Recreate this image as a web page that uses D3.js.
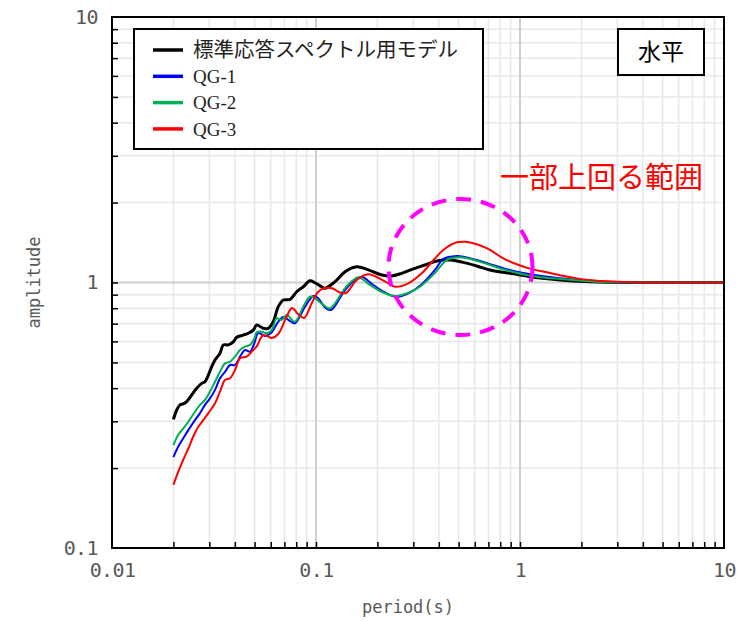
<!DOCTYPE html>
<html><head><meta charset="utf-8">
<script src="https://cdn.jsdelivr.net/npm/d3@7"></script>
<style>body{margin:0;background:#fff}</style>
</head><body>
<svg id="c" width="746" height="621"></svg>
<script>
// ---- data ----
const seriesNames = ["標準応答スペクトル用モデル", "QG-1", "QG-2", "QG-3"];
const seriesColors = ["#000000", "#0000ff", "#00b050", "#ff0000"];

const stdPeriod = [0.0200,0.02076,0.02154,0.02236,0.02323,0.02459,0.02601,0.02753,0.02857,0.02966,0.03082,0.03199,0.03384,0.03513,0.03716,0.03932,0.04086,0.04402,0.04658,0.04928,0.05120,0.05516,0.05835,0.06175,0.06534,0.06914,0.07457,0.08043,0.08664,0.09346,0.09888,0.1066,0.1107,0.1239,0.1388,0.1583,0.1805,0.2100,0.2350,0.2631,0.3057,0.3422,0.3832,0.4207,0.4540,0.5274,0.6135,0.7128,0.8281,0.9634,1.119,1.570,1.819,2.661,4.0,10];
const stdAmp = [0.305,0.331,0.346,0.349,0.356,0.377,0.400,0.417,0.423,0.448,0.482,0.511,0.541,0.582,0.582,0.598,0.622,0.634,0.644,0.662,0.692,0.672,0.672,0.712,0.811,0.859,0.864,0.923,0.964,1.016,0.998,0.964,0.951,1.007,1.098,1.147,1.115,1.067,1.058,1.083,1.131,1.164,1.200,1.215,1.215,1.191,1.154,1.115,1.092,1.074,1.051,1.022,1.014,1.002,1.000,1.000];

const qg1Period = [0.0200,0.02113,0.02236,0.02366,0.02552,0.02700,0.02857,0.03022,0.03199,0.03384,0.03581,0.03789,0.04009,0.04242,0.04487,0.04748,0.04984,0.05213,0.05623,0.06016,0.06534,0.06914,0.07457,0.07889,0.08835,0.09700,0.1023,0.1107,0.1185,0.1388,0.1553,0.1675,0.1882,0.2155,0.2467,0.2857,0.3271,0.3832,0.4207,0.4893,0.5274,0.6135,0.7128,0.8281,0.9634,1.119,1.570,2.661,4.0,10];
const qg1Amp = [0.220,0.241,0.259,0.278,0.303,0.322,0.346,0.366,0.394,0.436,0.461,0.489,0.489,0.526,0.557,0.549,0.590,0.645,0.629,0.645,0.712,0.742,0.716,0.702,0.811,0.890,0.874,0.805,0.788,0.937,1.022,1.051,0.987,0.921,0.882,0.913,0.979,1.115,1.226,1.259,1.251,1.215,1.171,1.131,1.098,1.074,1.037,1.004,1.000,1.000];

const qg2Period = [0.0200,0.02113,0.02236,0.02366,0.02552,0.02700,0.02857,0.03022,0.03199,0.03384,0.03581,0.03789,0.04009,0.04242,0.04487,0.04748,0.04984,0.05120,0.05417,0.05731,0.06064,0.06418,0.06790,0.07185,0.07889,0.08664,0.09346,0.09888,0.1086,0.1171,0.1388,0.1523,0.1612,0.1840,0.2107,0.2440,0.2825,0.3235,0.3832,0.4373,0.5080,0.6135,0.7128,0.8281,1.119,1.570,2.661,4.0,10];
const qg2Amp = [0.244,0.267,0.282,0.299,0.326,0.346,0.361,0.388,0.423,0.461,0.496,0.503,0.526,0.557,0.573,0.582,0.615,0.650,0.653,0.644,0.662,0.733,0.723,0.754,0.712,0.811,0.884,0.872,0.823,0.799,0.953,1.022,1.046,0.979,0.921,0.890,0.913,0.964,1.086,1.215,1.244,1.208,1.164,1.121,1.061,1.031,1.003,1.000,1.000];

const qg3Period = [0.0200,0.02113,0.02236,0.02366,0.02503,0.02649,0.02802,0.02966,0.03199,0.03384,0.03581,0.03789,0.04009,0.04242,0.04574,0.04839,0.05120,0.05516,0.06064,0.06534,0.07126,0.07628,0.08162,0.08735,0.09526,0.1023,0.1094,0.1198,0.1311,0.1403,0.1583,0.1805,0.2187,0.2440,0.2835,0.3297,0.3832,0.4207,0.4893,0.5377,0.6135,0.7128,0.8281,0.9634,1.119,1.352,1.570,1.968,2.661,3.58,10];
const qg3Amp = [0.173,0.194,0.215,0.237,0.263,0.286,0.303,0.322,0.351,0.388,0.429,0.436,0.468,0.518,0.526,0.549,0.575,0.634,0.618,0.640,0.735,0.802,0.761,0.735,0.835,0.921,0.951,0.951,0.917,0.913,1.022,1.074,1.007,0.964,0.993,1.083,1.233,1.326,1.417,1.424,1.393,1.326,1.233,1.171,1.128,1.093,1.064,1.032,1.010,1.002,1.000];

const xTickValues = [0.01, 0.1, 1, 10];
const xTickLabels = ["0.01", "0.1", "1", "10"];
const yTickValues = [0.1, 1, 10];
const yTickLabels = ["0.1", "1", "10"];
const xTitle = "period(s)";
const yTitle = "amplitude";
const panelLabel = "水平";
const noteText = "一部上回る範囲";
const notePeriod = 0.511, noteAmp = 1.144;

// ---- layout ----
const W = 746, H = 621;
const m = {left: 112, right: 22, top: 17, bottom: 73};
const pw = W - m.left - m.right, ph = H - m.top - m.bottom;
const svg = d3.select("#c");
const g = svg.append("g").attr("transform", `translate(${m.left},${m.top})`);

const x = d3.scaleLog().domain([0.01, 10]).range([0, pw]);
const y = d3.scaleLog().domain([0.1, 10]).range([ph, 0]);

// minor values
const xMinor = [], yMinor = [];
[0.01, 0.1, 1].forEach(b => { for (let k = 2; k <= 9; k++) xMinor.push(b * k); });
[0.1, 1].forEach(b => { for (let k = 2; k <= 9; k++) yMinor.push(b * k); });

// grid
g.append("g").selectAll("line").data(xMinor).join("line")
  .attr("x1", d => x(d)).attr("x2", d => x(d)).attr("y1", 0).attr("y2", ph)
  .attr("stroke", "#e8e8e8").attr("stroke-width", 1.5);
g.append("g").selectAll("line").data(yMinor).join("line")
  .attr("y1", d => y(d)).attr("y2", d => y(d)).attr("x1", 0).attr("x2", pw)
  .attr("stroke", "#e8e8e8").attr("stroke-width", 1.5);
g.append("g").selectAll("line").data([0.1, 1]).join("line")
  .attr("x1", d => x(d)).attr("x2", d => x(d)).attr("y1", 0).attr("y2", ph)
  .attr("stroke", "#cfcfcf").attr("stroke-width", 2);
g.append("g").selectAll("line").data([1]).join("line")
  .attr("y1", d => y(d)).attr("y2", d => y(d)).attr("x1", 0).attr("x2", pw)
  .attr("stroke", "#cfcfcf").attr("stroke-width", 2);

// inward ticks via d3 axes
const xTicksAll = xMinor.concat([0.1, 1]);
const yTicksAll = yMinor.concat([1]);
const xa = g.append("g").attr("transform", `translate(0,${ph})`)
  .call(d3.axisBottom(x).tickValues(xTicksAll).tickSize(-6).tickFormat(""));
const ya = g.append("g")
  .call(d3.axisLeft(y).tickValues(yTicksAll).tickSize(-6).tickFormat(""));
[xa, ya].forEach(a => {
  a.select(".domain").remove();
  a.selectAll(".tick line").attr("stroke", "#000").attr("stroke-width", 1.5);
});

// tick labels
const tickFont = "'DejaVu Sans Mono', monospace";
const xl = g.append("g").attr("transform", `translate(0,${ph})`)
  .call(d3.axisBottom(x).tickValues(xTickValues).tickSize(0).tickPadding(15)
    .tickFormat((d, i) => xTickLabels[i]));
xl.select(".domain").remove();
xl.selectAll("text").attr("font-family", tickFont).attr("font-size", 20)
  .attr("letter-spacing", -0.6).attr("fill", "#595959");
const yl = g.append("g")
  .call(d3.axisLeft(y).tickValues(yTickValues).tickSize(0).tickPadding(14)
    .tickFormat((d, i) => yTickLabels[i]));
yl.select(".domain").remove();
yl.selectAll("text").attr("font-family", tickFont).attr("font-size", 20)
  .attr("letter-spacing", -0.6).attr("fill", "#595959");

// axis titles
svg.append("text").attr("x", m.left + pw / 2 - 10).attr("y", H - 8)
  .attr("text-anchor", "middle").attr("font-family", tickFont).attr("font-size", 17)
  .attr("fill", "#595959").text(xTitle);
svg.append("text").attr("transform", `translate(40,${m.top + y(1)}) rotate(-90)`)
  .attr("text-anchor", "middle").attr("font-family", tickFont).attr("font-size", 17)
  .attr("fill", "#595959").text(yTitle);

// lines
const seriesData = [
  d3.zip(stdPeriod, stdAmp), d3.zip(qg1Period, qg1Amp),
  d3.zip(qg2Period, qg2Amp), d3.zip(qg3Period, qg3Amp)
];
const seriesWidth = [3, 2, 2, 2];
const line = d3.line().x(d => x(d[0])).y(d => y(d[1])).curve(d3.curveCatmullRom.alpha(0.5));
svg.append("defs").append("clipPath").attr("id", "pc")
  .append("rect").attr("width", pw).attr("height", ph);
const lg = g.append("g").attr("clip-path", "url(#pc)");
seriesData.forEach((s, i) => {
  lg.append("path").datum(s).attr("d", line).attr("fill", "none")
    .attr("stroke", seriesColors[i]).attr("stroke-width", seriesWidth[i])
    .attr("stroke-linejoin", "round");
});

// annotation ellipse + text
g.append("ellipse").attr("cx", x(notePeriod)).attr("cy", y(noteAmp))
  .attr("rx", 72).attr("ry", 68).attr("fill", "none")
  .attr("stroke", "#ff00ff").attr("stroke-width", 4).attr("stroke-dasharray", "15,10");
g.append("text").attr("x", 388).attr("y", 171)
  .attr("font-family", "'Noto Sans CJK JP', sans-serif").attr("font-size", 29)
  .attr("fill", "#ff0000").text(noteText);

// frame
g.append("rect").attr("width", pw).attr("height", ph).attr("fill", "none")
  .attr("stroke", "#000").attr("stroke-width", 2);

// legend
const leg = svg.append("g").attr("transform", "translate(134,29)");
leg.append("rect").attr("width", 349).attr("height", 120).attr("fill", "#fff")
  .attr("stroke", "#000").attr("stroke-width", 2);
seriesNames.forEach((n, i) => {
  const yy = 21 + i * 26.3;
  leg.append("line").attr("x1", 19).attr("x2", 49).attr("y1", yy).attr("y2", yy)
    .attr("stroke", seriesColors[i]).attr("stroke-width", 3.5);
  leg.append("text").attr("x", 59).attr("y", yy).attr("dy", "0.35em")
    .attr("font-family", i === 0 ? "'Noto Sans CJK JP', sans-serif" : "'Liberation Serif', serif")
    .attr("font-size", i === 0 ? 20.5 : 19).attr("fill", "#222").text(n);
});

// panel label box
const pb = svg.append("g").attr("transform", "translate(618,29)");
pb.append("rect").attr("width", 86).attr("height", 46).attr("fill", "#fff")
  .attr("stroke", "#000").attr("stroke-width", 2);
pb.append("text").attr("x", 43).attr("y", 23).attr("dy", "0.36em").attr("text-anchor", "middle")
  .attr("font-family", "'Noto Sans CJK JP', sans-serif").attr("font-size", 23)
  .attr("fill", "#000").text(panelLabel);
</script>
</body></html>
